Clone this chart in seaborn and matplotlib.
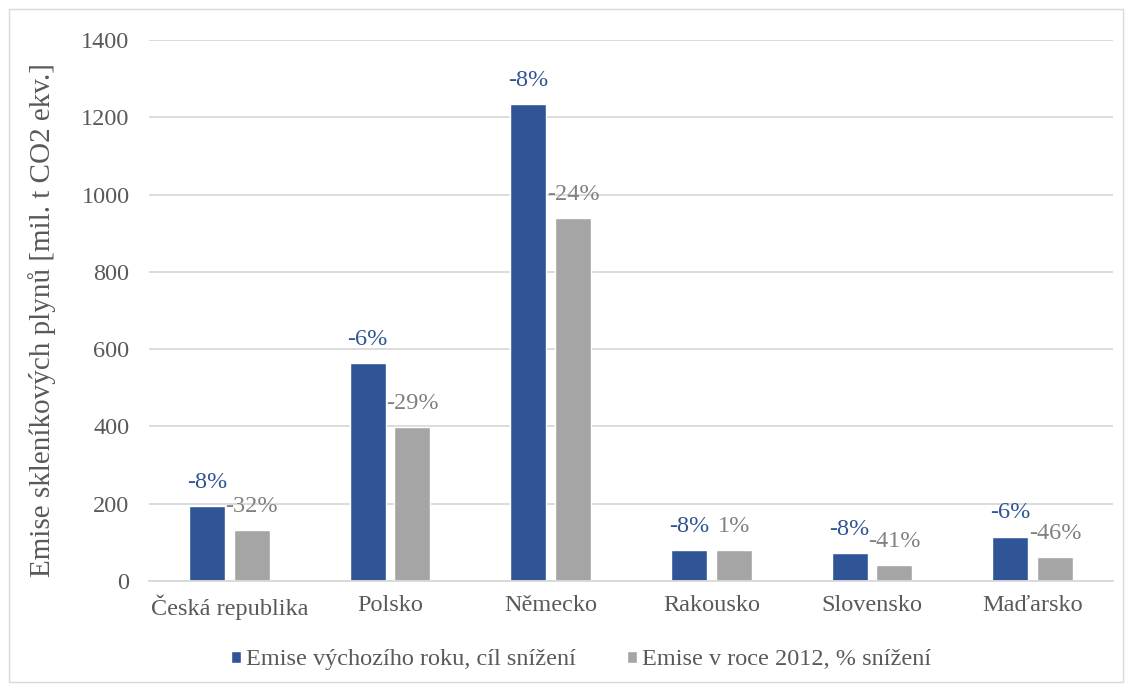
import matplotlib
matplotlib.use("Agg")
import matplotlib.pyplot as plt
import seaborn as sns
import pandas as pd
from matplotlib.patches import Rectangle

countries = ["Česká republika", "Polsko", "Německo", "Rakousko", "Slovensko", "Maďarsko"]
series_names = ["Emise výchozího roku, cíl snížení", "Emise v roce 2012, % snížení"]
base_values = [194, 563, 1234, 79, 73, 115]
values_2012 = [131, 399, 939, 80, 42, 62]
base_labels = ["-8%", "-6%", "-8%", "-8%", "-8%", "-6%"]
labels_2012 = ["-32%", "-29%", "-24%", "1%", "-41%", "-46%"]
colors = ["#2F5597", "#A5A5A5"]
label_colors = ["#2F5597", "#808080"]

df = pd.DataFrame({
    "Země": countries * 2,
    "Série": [series_names[0]] * len(countries) + [series_names[1]] * len(countries),
    "Hodnota": base_values + values_2012,
})

sns.set_theme(style="white")
plt.rcParams["font.family"] = ["Liberation Serif", "DejaVu Serif"]

FS = 17.5
fig = plt.figure(figsize=(11.32, 6.91), dpi=100)
ax = fig.add_axes([149 / 1132, 1 - 581 / 691, (1113 - 149) / 1132, (581 - 40) / 691])

sns.barplot(data=df, x="Země", y="Hodnota", hue="Série", palette=colors,
            width=0.56, gap=0.2, ax=ax, legend=True, saturation=1)

ax.set_ylim(0, 1400)
ax.set_yticks(range(0, 1401, 200))
ax.yaxis.grid(True, color="#D9D9D9", linewidth=1.3)
ax.set_axisbelow(True)
for s in ["top", "right", "left"]:
    ax.spines[s].set_visible(False)
ax.spines["bottom"].set_color("#D9D9D9")
ax.spines["bottom"].set_linewidth(1.3)
ax.tick_params(axis="both", length=0, labelsize=FS, colors="#595959")
ax.tick_params(axis="y", pad=14)
ax.tick_params(axis="x", pad=10)
ax.set_xlabel("")
ax.set_ylabel("Emise skleníkových plynů [mil. t CO2 ekv.]", fontsize=21, color="#595959")
ax.yaxis.set_label_coords(-0.0965, 0.482)

all_labels = [base_labels, labels_2012]
for i, cont in enumerate(ax.containers):
    for bar, txt in zip(cont, all_labels[i]):
        ax.annotate(txt, (bar.get_x() + bar.get_width() / 2, bar.get_height()),
                    xytext=(0, 17), textcoords="offset points", ha="center", va="center",
                    fontsize=FS, color=label_colors[i])

leg = ax.legend(loc="center", bbox_to_anchor=(0.448, -0.146), ncol=2, frameon=False,
                fontsize=FS, handlelength=0.42, handleheight=0.42, handletextpad=0.2,
                columnspacing=2.1)
for t in leg.get_texts():
    t.set_color("#595959")

fig.patches.append(Rectangle((9 / 1132, 9 / 691), 1 - 18 / 1132, 1 - 18 / 691,
                             transform=fig.transFigure, fill=False, edgecolor="#D9D9D9",
                             linewidth=1))

fig.savefig("out.png", dpi=100)
